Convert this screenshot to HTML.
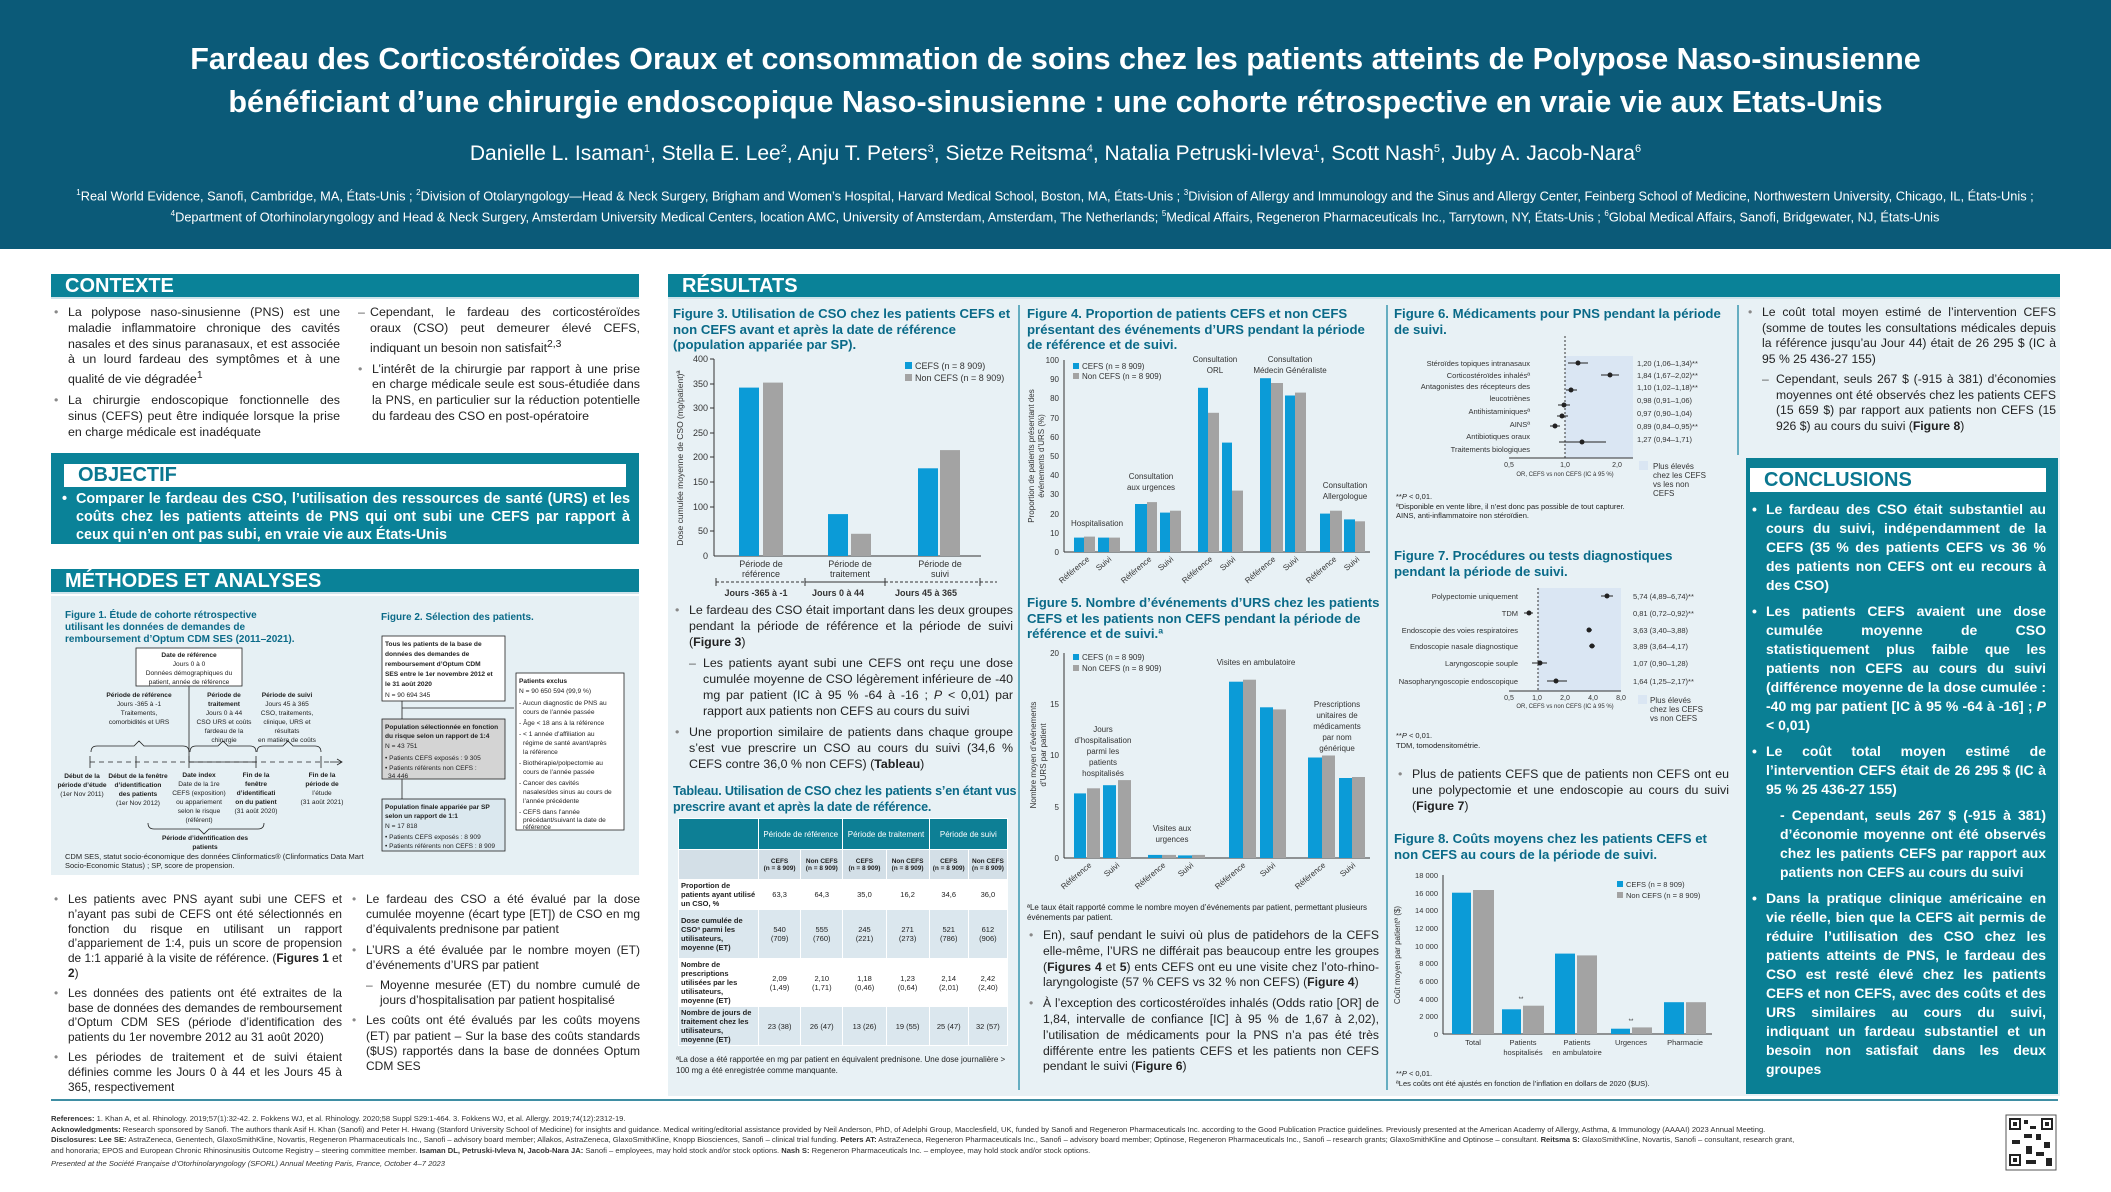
<!DOCTYPE html>
<html><head><meta charset="utf-8">
<style>
*{margin:0;padding:0;box-sizing:border-box}
body{width:2111px;height:1192px;position:relative;background:#fff;font-family:"Liberation Sans",Arial,sans-serif;color:#222;overflow:hidden}
.a{position:absolute}
.hdr{left:0;top:0;width:2111px;height:249px;background:#0b5a78;color:#fff;text-align:center}
.bar{background:#0a8298;color:#fff;font-weight:bold;font-size:20px;line-height:24px;padding-left:14px;border-bottom:2px solid #cfe3ea}
.t{font-size:12.4px;line-height:15.8px;text-align:justify}
.t p{position:relative;padding-left:16px;margin-bottom:5px}
.t p:before{content:"•";position:absolute;left:2px;color:#888}
.t p.d{padding-left:30px}
.t p.d:before{content:"–";left:16px;color:#555}
.ft{color:#0a6a88;font-weight:bold;font-size:13.2px;line-height:15.5px}
.sm{font-size:8.5px;line-height:10.5px}
table{border-collapse:collapse;font-size:7.5px;text-align:center}
td{border:1px solid #fff;padding:1px 2px}
.c p{position:relative;padding-left:16px;margin-bottom:7px}
.c p:before{content:"•";position:absolute;left:2px}
.c p.x:before{content:""}
</style></head><body>
<div class="a hdr">
<div class="a" style="left:0;width:2111px;top:38px;font-size:30.5px;font-weight:bold;line-height:43px">Fardeau des Corticostéroïdes Oraux et consommation de soins chez les patients atteints de Polypose Naso-sinusienne<br>bénéficiant d’une chirurgie endoscopique Naso-sinusienne : une cohorte rétrospective en vraie vie aux Etats-Unis</div>
<div class="a" style="left:0;width:2111px;top:142px;font-size:21px">Danielle L. Isaman<sup style="font-size:11px">1</sup>, Stella E. Lee<sup style="font-size:11px">2</sup>, Anju T. Peters<sup style="font-size:11px">3</sup>, Sietze Reitsma<sup style="font-size:11px">4</sup>, Natalia Petruski-Ivleva<sup style="font-size:11px">1</sup>, Scott Nash<sup style="font-size:11px">5</sup>, Juby A. Jacob-Nara<sup style="font-size:11px">6</sup></div>
<div class="a" style="left:70px;width:1970px;top:184px;font-size:12.8px;line-height:18px"><sup style="font-size:8px">1</sup>Real World Evidence, Sanofi, Cambridge, MA, États-Unis ; <sup style="font-size:8px">2</sup>Division of Otolaryngology—Head &amp; Neck Surgery, Brigham and Women’s Hospital, Harvard Medical School, Boston, MA, États-Unis ; <sup style="font-size:8px">3</sup>Division of Allergy and Immunology and the Sinus and Allergy Center, Feinberg School of Medicine, Northwestern University, Chicago, IL, États-Unis ; <sup style="font-size:8px">4</sup>Department of Otorhinolaryngology and Head &amp; Neck Surgery, Amsterdam University Medical Centers, location AMC, University of Amsterdam, Amsterdam, The Netherlands; <sup style="font-size:8px">5</sup>Medical Affairs, Regeneron Pharmaceuticals Inc., Tarrytown, NY, États-Unis ; <sup style="font-size:8px">6</sup>Global Medical Affairs, Sanofi, Bridgewater, NJ, États-Unis</div>
</div>

<!-- LEFT COLUMN -->
<div class="a bar" style="left:51px;top:274px;width:588px;height:25px">CONTEXTE</div>
<div class="a t" style="left:52px;top:305px;width:288px">
<p>La polypose naso-sinusienne (PNS) est une maladie inflammatoire chronique des cavités nasales et des sinus paranasaux, et est associée à un lourd fardeau des symptômes et à une qualité de vie dégradée<sup>1</sup></p>
<p>La chirurgie endoscopique fonctionnelle des sinus (CEFS) peut être indiquée lorsque la prise en charge médicale est inadéquate</p></div>
<div class="a t" style="left:356px;top:305px;width:284px">
<p class="d" style="padding-left:14px">Cependant, le fardeau des corticostéroïdes oraux (CSO) peut demeurer élevé CEFS, indiquant un besoin non satisfait<sup>2,3</sup></p>
<style>.t p.d[style]:before{left:2px}</style>
<p>L’intérêt de la chirurgie par rapport à une prise en charge médicale seule est sous-étudiée dans la PNS, en particulier sur la réduction potentielle du fardeau des CSO en post-opératoire</p></div>

<div class="a" style="left:51px;top:453px;width:588px;height:91px;background:#0a8298"></div>
<div class="a" style="left:64px;top:464px;width:562px;height:23px;background:#fff;color:#0a7790;font-weight:bold;font-size:20px;line-height:23px;padding-left:14px">OBJECTIF</div>
<div class="a c" style="left:60px;top:490px;width:570px;color:#fff;font-weight:bold;font-size:14.4px;line-height:18px;text-align:justify"><p>Comparer le fardeau des CSO, l’utilisation des ressources de santé (URS) et les coûts chez les patients atteints de PNS qui ont subi une CEFS par rapport à ceux qui n’en ont pas subi, en vraie vie aux États-Unis</p></div>

<div class="a bar" style="left:51px;top:569px;width:588px;height:25px">MÉTHODES ET ANALYSES</div>
<div class="a" style="left:51px;top:596px;width:588px;height:279px;background:#e6f0f4"></div>
<div class="a ft" style="left:65px;top:610px;width:230px;font-size:10px;line-height:12px">Figure 1. Étude de cohorte rétrospective utilisant les données de demandes de remboursement d’Optum CDM SES (2011–2021).</div>
<div class="a ft" style="left:381px;top:610px;font-size:10px">Figure 2. Sélection des patients.</div>
<div class="a sm" style="left:65px;top:852px;width:300px;font-size:7.5px;line-height:9px">CDM SES, statut socio-économique des données Clinformatics® (Clinformatics Data Mart Socio-Economic Status) ; SP, score de propension.</div>

<div class="a t" style="left:52px;top:892px;width:290px;line-height:14.8px;font-size:11.8px">
<p>Les patients avec PNS ayant subi une CEFS et n’ayant pas subi de CEFS ont été sélectionnés en fonction du risque en utilisant un rapport d’appariement de 1:4, puis un score de propension de 1:1 apparié à la visite de référence. (<b>Figures 1</b> et <b>2</b>)</p>
<p>Les données des patients ont été extraites de la base de données des demandes de remboursement d’Optum CDM SES (période d’identification des patients du 1er novembre 2012 au 31 août 2020)</p>
<p>Les périodes de traitement et de suivi étaient définies comme les Jours 0 à 44 et les Jours 45 à 365, respectivement</p></div>
<div class="a t" style="left:350px;top:892px;width:290px;line-height:15.2px;font-size:12px">
<p>Le fardeau des CSO a été évalué par la dose cumulée moyenne (écart type [ET]) de CSO en mg d’équivalents prednisone par patient</p>
<p>L’URS a été évaluée par le nombre moyen (ET) d’événements d’URS par patient</p>
<p class="d">Moyenne mesurée (ET) du nombre cumulé de jours d’hospitalisation par patient hospitalisé</p>
<p>Les coûts ont été évalués par les coûts moyens (ET) par patient – Sur la base des coûts standards ($US) rapportés dans la base de données Optum CDM SES</p></div>

<!-- RESULTS -->
<div class="a bar" style="left:668px;top:274px;width:1392px;height:25px">RÉSULTATS</div>
<div class="a" style="left:668px;top:299px;width:1392px;height:797px;background:#e8f1f5"></div>
<div class="a" style="left:1746px;top:458px;width:312px;height:636px;background:#0a7f94"></div>

<div class="a ft" style="left:673px;top:306px;width:340px">Figure 3. Utilisation de CSO chez les patients CEFS et non CEFS avant et après la date de référence (population appariée par SP).</div>
<div class="a t" style="left:673px;top:602px;width:340px;line-height:16px">
<p>Le fardeau des CSO était important dans les deux groupes pendant la période de référence et la période de suivi (<b>Figure 3</b>)</p>
<p class="d">Les patients ayant subi une CEFS ont reçu une dose cumulée moyenne de CSO légèrement inférieure de -40 mg par patient (IC à 95 % -64 à -16 ; <i>P</i> &lt; 0,01) par rapport aux patients non CEFS au cours du suivi</p>
<p>Une proportion similaire de patients dans chaque groupe s’est vue prescrire un CSO au cours du suivi (34,6 % CEFS contre 36,0 % non CEFS) (<b>Tableau</b>)</p></div>
<div class="a ft" style="left:673px;top:784px;width:345px;font-size:12.6px;letter-spacing:-0.2px">Tableau. Utilisation de CSO chez les patients s’en étant vus prescrire avant et après la date de référence.</div>
<table class="a" style="left:678px;top:818px;width:330px">
<tr style="background:#0d7f95;color:#fff;height:31px;font-size:8px"><td style="width:80px"></td><td colspan="2">Période de référence</td><td colspan="2">Période de traitement</td><td colspan="2">Période de suivi</td></tr>
<tr style="background:#d3dfe7;height:30px;font-weight:bold;font-size:6.5px"><td></td><td>CEFS<br>(n = 8 909)</td><td>Non CEFS<br>(n = 8 909)</td><td>CEFS<br>(n = 8 909)</td><td>Non CEFS<br>(n = 8 909)</td><td>CEFS<br>(n = 8 909)</td><td>Non CEFS<br>(n = 8 909)</td></tr>
<tr style="background:#fff;height:30px"><td style="text-align:left;font-weight:bold">Proportion de patients ayant utilisé un CSO, %</td><td>63,3</td><td>64,3</td><td>35,0</td><td>16,2</td><td>34,6</td><td>36,0</td></tr>
<tr style="background:#dbe7ee;height:49px"><td style="text-align:left;font-weight:bold">Dose cumulée de CSOª parmi les utilisateurs, moyenne (ET)</td><td>540<br>(709)</td><td>555<br>(760)</td><td>245<br>(221)</td><td>271<br>(273)</td><td>521<br>(786)</td><td>612<br>(906)</td></tr>
<tr style="background:#fff;height:40px"><td style="text-align:left;font-weight:bold">Nombre de prescriptions utilisées par les utilisateurs, moyenne (ET)</td><td>2,09<br>(1,49)</td><td>2,10<br>(1,71)</td><td>1,18<br>(0,46)</td><td>1,23<br>(0,64)</td><td>2,14<br>(2,01)</td><td>2,42<br>(2,40)</td></tr>
<tr style="background:#dbe7ee;height:38px"><td style="text-align:left;font-weight:bold">Nombre de jours de traitement chez les utilisateurs, moyenne (ET)</td><td>23 (38)</td><td>26 (47)</td><td>13 (26)</td><td>19 (55)</td><td>25 (47)</td><td>32 (57)</td></tr>
</table>
<div class="a sm" style="left:676px;top:1055px;width:340px;font-size:8px">ªLa dose a été rapportée en mg par patient en équivalent prednisone. Une dose journalière &gt; 100 mg a été enregistrée comme manquante.</div>

<div class="a ft" style="left:1027px;top:306px;width:355px">Figure 4. Proportion de patients CEFS et non CEFS présentant des événements d’URS pendant la période de référence et de suivi.</div>
<div class="a ft" style="left:1027px;top:595px;width:355px">Figure 5. Nombre d’événements d’URS chez les patients CEFS et les patients non CEFS pendant la période de référence et de suivi.ª</div>
<div class="a sm" style="left:1027px;top:903px;width:350px;font-size:8px;line-height:9.5px">ªLe taux était rapporté comme le nombre moyen d’événements par patient, permettant plusieurs événements par patient.</div>
<div class="a t" style="left:1027px;top:928px;width:352px;line-height:15.8px;font-size:12.2px">
<p>En), sauf pendant le suivi où plus de patidehors de la CEFS elle-même, l’URS ne différait pas beaucoup entre les groupes (<b>Figures 4</b> et <b>5</b>) ents CEFS ont eu une visite chez l’oto-rhino-laryngologiste (57 % CEFS vs 32 % non CEFS) (<b>Figure 4</b>)</p>
<p>À l’exception des corticostéroïdes inhalés (Odds ratio [OR] de 1,84, intervalle de confiance [IC] à 95 % de 1,67 à 2,02), l’utilisation de médicaments pour la PNS n’a pas été très différente entre les patients CEFS et les patients non CEFS pendant le suivi (<b>Figure 6</b>)</p></div>

<div class="a ft" style="left:1394px;top:306px;width:330px">Figure 6. Médicaments pour PNS pendant la période de suivi.</div>
<div class="a sm" style="left:1396px;top:492px;width:330px;font-size:7.5px;line-height:9.5px">**<i>P</i> &lt; 0,01.<br>ªDisponible en vente libre, il n’est donc pas possible de tout capturer.<br>AINS, anti-inflammatoire non stéroïdien.</div>
<div class="a ft" style="left:1394px;top:548px;width:330px">Figure 7. Procédures ou tests diagnostiques pendant la période de suivi.</div>
<div class="a sm" style="left:1396px;top:731px;font-size:7.5px;line-height:10px">**<i>P</i> &lt; 0,01.<br>TDM, tomodensitométrie.</div>
<div class="a t" style="left:1396px;top:767px;width:333px">
<p>Plus de patients CEFS que de patients non CEFS ont eu une polypectomie et une endoscopie au cours du suivi (<b>Figure 7</b>)</p></div>
<div class="a ft" style="left:1394px;top:831px;width:333px">Figure 8. Coûts moyens chez les patients CEFS et non CEFS au cours de la période de suivi.</div>
<div class="a sm" style="left:1396px;top:1069px;font-size:7.5px;line-height:10px">**<i>P</i> &lt; 0,01.<br>ªLes coûts ont été ajustés en fonction de l’inflation en dollars de 2020 ($US).</div>

<div class="a t" style="left:1746px;top:305px;width:310px;font-size:12.2px;line-height:15.5px">
<p>Le coût total moyen estimé de l’intervention CEFS (somme de toutes les consultations médicales depuis la référence jusqu’au Jour 44) était de 26 295 $ (IC à 95 % 25 436-27 155)</p>
<p class="d">Cependant, seuls 267 $ (-915 à 381) d’économies moyennes ont été observés chez les patients CEFS (15 659 $) par rapport aux patients non CEFS (15 926 $) au cours du suivi (<b>Figure 8</b>)</p></div>
<div class="a" style="left:1750px;top:468px;width:296px;height:24px;background:#fff;color:#0a7790;font-weight:bold;font-size:20px;line-height:24px;padding-left:14px">CONCLUSIONS</div>
<div class="a c" style="left:1750px;top:500px;width:296px;color:#fff;font-weight:bold;font-size:14px;line-height:19px;text-align:justify">
<p>Le fardeau des CSO était substantiel au cours du suivi, indépendamment de la CEFS (35 % des patients CEFS vs 36 % des patients non CEFS ont eu recours à des CSO)</p>
<p>Les patients CEFS avaient une dose cumulée moyenne de CSO statistiquement plus faible que les patients non CEFS au cours du suivi (différence moyenne de la dose cumulée : -40 mg par patient [IC à 95 % -64 à -16] ; <i>P</i> &lt; 0,01)</p>
<p>Le coût total moyen estimé de l’intervention CEFS était de 26 295 $ (IC à 95 % 25 436-27 155)</p>
<p style="padding-left:30px" class="x">- Cependant, seuls 267 $ (-915 à 381) d’économie moyenne ont été observés chez les patients CEFS par rapport aux patients non CEFS au cours du suivi</p>
<p>Dans la pratique clinique américaine en vie réelle, bien que la CEFS ait permis de réduire l’utilisation des CSO chez les patients atteints de PNS, le fardeau des CSO est resté élevé chez les patients CEFS et non CEFS, avec des coûts et des URS similaires au cours du suivi, indiquant un fardeau substantiel et un besoin non satisfait dans les deux groupes</p></div>

<!-- FOOTER -->
<div class="a" style="left:51px;top:1099px;width:2007px;height:2px;background:#3f8ea3"></div>
<div class="a" style="left:51px;top:1114px;width:1940px;font-size:7.6px;line-height:10.6px;color:#333">
<b>References:</b> 1. Khan A, et al. Rhinology. 2019;57(1):32-42. 2. Fokkens WJ, et al. Rhinology. 2020;58 Suppl S29:1-464. 3. Fokkens WJ, et al. Allergy. 2019;74(12):2312-19.<br>
<b>Acknowledgments:</b> Research sponsored by Sanofi. The authors thank Asif H. Khan (Sanofi) and Peter H. Hwang (Stanford University School of Medicine) for insights and guidance. Medical writing/editorial assistance provided by Neil Anderson, PhD, of Adelphi Group, Macclesfield, UK, funded by Sanofi and Regeneron Pharmaceuticals Inc. according to the Good Publication Practice guidelines. Previously presented at the American Academy of Allergy, Asthma, &amp; Immunology (AAAAI) 2023 Annual Meeting.<br>
<b>Disclosures: Lee SE:</b> AstraZeneca, Genentech, GlaxoSmithKline, Novartis, Regeneron Pharmaceuticals Inc., Sanofi – advisory board member; Allakos, AstraZeneca, GlaxoSmithKline, Knopp Biosciences, Sanofi – clinical trial funding. <b>Peters AT:</b> AstraZeneca, Regeneron Pharmaceuticals Inc., Sanofi – advisory board member; Optinose, Regeneron Pharmaceuticals Inc., Sanofi – research grants; GlaxoSmithKline and Optinose – consultant. <b>Reitsma S:</b> GlaxoSmithKline, Novartis, Sanofi – consultant, research grant,<br>and honoraria; EPOS and European Chronic Rhinosinusitis Outcome Registry – steering committee member. <b>Isaman DL, Petruski-Ivleva N, Jacob-Nara JA:</b> Sanofi – employees, may hold stock and/or stock options. <b>Nash S:</b> Regeneron Pharmaceuticals Inc. – employee, may hold stock and/or stock options.<br>
<i style="line-height:16px">Presented at the Société Française d’Otorhinolaryngology (SFORL) Annual Meeting Paris, France, October 4–7 2023</i></div>

<svg class="a" style="left:0;top:0" width="2111" height="1192" font-family="Liberation Sans, Arial, sans-serif">
<g stroke="#3b97b0" stroke-width="1.5"><line x1="1019" y1="305" x2="1019" y2="1090"/><line x1="1387" y1="305" x2="1387" y2="1090"/><line x1="1738" y1="305" x2="1738" y2="455"/></g>

<!-- FIG 1 -->
<g font-size="6.6" fill="#222" text-anchor="middle" stroke-width="0.8">
<rect x="136" y="648" width="106" height="38" fill="#fff" stroke="#222"/>
<text x="189" y="657" font-weight="bold">Date de référence</text><text x="189" y="666">Jours 0 à 0</text><text x="189" y="675">Données démographiques du</text><text x="189" y="684">patient, année de référence</text>
<line x1="189" y1="686" x2="189" y2="762" stroke="#222"/>
<text x="139" y="697" font-weight="bold">Période de référence</text><text x="139" y="706">Jours -365 à -1</text><text x="139" y="715">Traitements,</text><text x="139" y="724">comorbidités et URS</text>
<text x="224" y="697" font-weight="bold">Période de</text><text x="224" y="706" font-weight="bold">traitement</text><text x="224" y="715">Jours 0 à 44</text><text x="224" y="724">CSO URS et coûts</text><text x="224" y="733">fardeau de la</text><text x="224" y="742">chirurgie</text>
<text x="287" y="697" font-weight="bold">Période de suivi</text><text x="287" y="706">Jours 45 à 365</text><text x="287" y="715">CSO, traitements,</text><text x="287" y="724">clinique, URS et</text><text x="287" y="733">résultats</text><text x="287" y="742">en matière de coûts</text>
<path d="M91 752 Q91 746 97 746 L134 746 L139 741 L144 746 L183 746 Q189 746 189 752 M190 752 Q190 746 196 746 L218 746 L223 741 L228 746 L250 746 Q256 746 256 752 M257 752 Q257 746 263 746 L283 746 L288 741 L293 746 L315 746 Q321 746 321 752" fill="none" stroke="#222"/>
<line x1="90" y1="762" x2="330" y2="762" stroke="#222" stroke-dasharray="5,4"/><line x1="189" y1="762" x2="256" y2="762" stroke="#222"/>
<path d="M330 762 L342 762 M337 759 L342 762 L337 765" stroke="#222" fill="none"/>
<g stroke="#222"><line x1="90" y1="756" x2="90" y2="768"/><line x1="136" y1="756" x2="136" y2="768"/><line x1="189" y1="756" x2="189" y2="768"/><line x1="256" y1="756" x2="256" y2="768"/><line x1="321" y1="756" x2="321" y2="768"/></g>
<text x="82" y="778" font-weight="bold">Début de la</text><text x="82" y="787" font-weight="bold">période d’étude</text><text x="82" y="796">(1er Nov 2011)</text>
<text x="138" y="778" font-weight="bold">Début de la fenêtre</text><text x="138" y="787" font-weight="bold">d’identification</text><text x="138" y="796" font-weight="bold">des patients</text><text x="138" y="805">(1er Nov 2012)</text>
<text x="199" y="777" font-weight="bold">Date index</text><text x="199" y="786">Date de la 1re</text><text x="199" y="795">CEFS (exposition)</text><text x="199" y="804">ou appariement</text><text x="199" y="813">selon le risque</text><text x="199" y="822">(référent)</text>
<text x="256" y="777" font-weight="bold">Fin de la</text><text x="256" y="786" font-weight="bold">fenêtre</text><text x="256" y="795" font-weight="bold">d’identificati</text><text x="256" y="804" font-weight="bold">on du patient</text><text x="256" y="813">(31 août 2020)</text>
<text x="322" y="777" font-weight="bold">Fin de la</text><text x="322" y="786" font-weight="bold">période de</text><text x="322" y="795">l’étude</text><text x="322" y="804">(31 août 2021)</text>
<path d="M148 823 Q148 829 154 829 L199 829 L204 834 L209 829 L258 829 Q264 829 264 823" fill="none" stroke="#222"/>
<text x="205" y="840" font-weight="bold">Période d’identification des</text><text x="205" y="849" font-weight="bold">patients</text>
</g>
<!-- FIG 2 -->
<g font-size="6.6" fill="#222" stroke-width="0.8">
<rect x="382" y="636" width="123" height="65" fill="#fff" stroke="#222"/>
<text x="385" y="646" font-weight="bold">Tous les patients de la base de</text><text x="385" y="656" font-weight="bold">données des demandes de</text><text x="385" y="666" font-weight="bold">remboursement d’Optum CDM</text><text x="385" y="676" font-weight="bold">SES entre le 1er novembre 2012 et</text><text x="385" y="686" font-weight="bold">le 31 août 2020</text><text x="385" y="697">N = 90 694 345</text>
<line x1="402" y1="701" x2="402" y2="719" stroke="#222"/><line x1="402" y1="708" x2="514" y2="708" stroke="#222"/>
<rect x="382" y="719" width="123" height="60" fill="#d4d4d4" stroke="#222"/>
<text x="385" y="729" font-weight="bold">Population sélectionnée en fonction</text><text x="385" y="738" font-weight="bold">du risque selon un rapport de 1:4</text><text x="385" y="748">N = 43 751</text><text x="385" y="760">• Patients CEFS exposés : 9 305</text><text x="385" y="770">• Patients référents non CEFS :</text><text x="388" y="778">34 446</text>
<line x1="402" y1="779" x2="402" y2="799" stroke="#222"/>
<rect x="382" y="799" width="123" height="52" fill="#dbe8ef" stroke="#222"/>
<text x="385" y="809" font-weight="bold">Population finale appariée par SP</text><text x="385" y="818" font-weight="bold">selon un rapport de 1:1</text><text x="385" y="828">N = 17 818</text><text x="385" y="839">• Patients CEFS exposés : 8 909</text><text x="385" y="848">• Patients référents non CEFS : 8 909</text>
<rect x="516" y="673" width="108" height="157" fill="#fff" stroke="#222"/>
<text x="519" y="683" font-weight="bold">Patients exclus</text><text x="519" y="693">N = 90 650 594 (99,9 %)</text>
<text x="519" y="705">- Aucun diagnostic de PNS au</text><text x="523" y="714">cours de l’année passée</text><text x="519" y="725">- Âge &lt; 18 ans à la référence</text><text x="519" y="736">- &lt; 1 année d’affiliation au</text><text x="523" y="745">régime de santé avant/après</text><text x="523" y="754">la référence</text><text x="519" y="765">- Biothérapie/polpectomie au</text><text x="523" y="774">cours de l’année passée</text><text x="519" y="785">- Cancer des cavités</text><text x="523" y="794">nasales/des sinus au cours de</text><text x="523" y="803">l’année précédente</text><text x="519" y="814">- CEFS dans l’année</text><text x="523" y="822">précédant/suivant la date de</text><text x="523" y="829">référence</text>
</g>

<!-- FIG 3 -->
<g font-size="9" fill="#333">
<line x1="714" y1="359" x2="714" y2="556" stroke="#333"/><line x1="714" y1="556" x2="981" y2="556" stroke="#333"/>
<g text-anchor="end"><text x="708" y="362">400</text><text x="708" y="387">350</text><text x="708" y="411">300</text><text x="708" y="436">250</text><text x="708" y="460">200</text><text x="708" y="485">150</text><text x="708" y="510">100</text><text x="708" y="534">50</text><text x="708" y="559">0</text></g>
<g stroke="#333"><line x1="710" y1="359" x2="714" y2="359"/><line x1="710" y1="384" x2="714" y2="384"/><line x1="710" y1="408" x2="714" y2="408"/><line x1="710" y1="433" x2="714" y2="433"/><line x1="710" y1="457" x2="714" y2="457"/><line x1="710" y1="482" x2="714" y2="482"/><line x1="710" y1="507" x2="714" y2="507"/><line x1="710" y1="531" x2="714" y2="531"/></g>
<text transform="translate(683,458) rotate(-90)" text-anchor="middle" font-size="8.5">Dose cumulée moyenne de CSO (mg/patient)ª</text>
<g fill="#0b9bd7"><rect x="739" y="387.6" width="20" height="168.4"/><rect x="828" y="514.1" width="20" height="41.9"/><rect x="918" y="468.3" width="20" height="87.7"/></g>
<g fill="#a3a3a3"><rect x="763" y="382.6" width="20" height="173.4"/><rect x="851" y="533.8" width="20" height="22.2"/><rect x="940" y="450.1" width="20" height="105.9"/></g>
<rect x="905" y="362" width="7" height="7" fill="#0b9bd7"/><text x="915" y="369">CEFS (n = 8 909)</text>
<rect x="905" y="374" width="7" height="7" fill="#a3a3a3"/><text x="915" y="381">Non CEFS (n = 8 909)</text>
<g text-anchor="middle"><text x="761" y="567">Période de</text><text x="761" y="577">référence</text><text x="850" y="567">Période de</text><text x="850" y="577">traitement</text><text x="940" y="567">Période de</text><text x="940" y="577">suivi</text>
<text x="756" y="596" font-weight="bold">Jours -365 à -1</text><text x="838" y="596" font-weight="bold">Jours 0 à 44</text><text x="926" y="596" font-weight="bold">Jours 45 à 365</text></g>
<g stroke="#333"><line x1="716" y1="582" x2="805" y2="582" stroke-dasharray="3,2"/><line x1="805" y1="582" x2="885" y2="582"/><line x1="885" y1="582" x2="997" y2="582" stroke-dasharray="3,2"/><line x1="716" y1="578" x2="716" y2="586"/><line x1="805" y1="578" x2="805" y2="586"/><line x1="885" y1="578" x2="885" y2="586"/><line x1="980" y1="578" x2="980" y2="586"/></g>
</g>

<!-- FIG 4 -->
<g font-size="8" fill="#333">
<line x1="1064" y1="360" x2="1064" y2="552" stroke="#333"/><line x1="1064" y1="552" x2="1370" y2="552" stroke="#333"/>
<g text-anchor="end"><text x="1059" y="363">100</text><text x="1059" y="382">90</text><text x="1059" y="401">80</text><text x="1059" y="421">70</text><text x="1059" y="440">60</text><text x="1059" y="459">50</text><text x="1059" y="478">40</text><text x="1059" y="497">30</text><text x="1059" y="517">20</text><text x="1059" y="536">10</text><text x="1059" y="555">0</text></g>
<text transform="translate(1034,456) rotate(-90)" text-anchor="middle" font-size="8">Proportion de patients présentant des</text>
<text transform="translate(1044,456) rotate(-90)" text-anchor="middle" font-size="8">événements d’URS (%)</text>
<g fill="#0b9bd7"><rect x="1074" y="537.6" width="10" height="14.4"/><rect x="1098" y="537.6" width="11" height="14.4"/><rect x="1135" y="504" width="12" height="48"/><rect x="1160" y="512.6" width="10" height="39.4"/><rect x="1198" y="387.8" width="10" height="164.2"/><rect x="1222" y="442.6" width="10" height="109.4"/><rect x="1260" y="378.2" width="11" height="173.8"/><rect x="1285" y="395.5" width="10" height="156.5"/><rect x="1320" y="513.6" width="10" height="38.4"/><rect x="1344" y="519.4" width="11" height="32.6"/></g>
<g fill="#a3a3a3"><rect x="1084" y="536.6" width="11" height="15.4"/><rect x="1109" y="537.6" width="11" height="14.4"/><rect x="1147" y="502.1" width="10" height="49.9"/><rect x="1170" y="510.7" width="11" height="41.3"/><rect x="1208" y="412.8" width="11" height="139.2"/><rect x="1232" y="490.6" width="11" height="61.4"/><rect x="1271" y="383" width="12" height="169"/><rect x="1295" y="392.6" width="11" height="159.4"/><rect x="1330" y="510.7" width="12" height="41.3"/><rect x="1355" y="521.3" width="10" height="30.7"/></g>
<rect x="1073" y="363" width="6" height="6" fill="#0b9bd7"/><text x="1082" y="369">CEFS (n = 8 909)</text>
<rect x="1073" y="373" width="6" height="6" fill="#a3a3a3"/><text x="1082" y="379">Non CEFS (n = 8 909)</text>
<g text-anchor="middle"><text x="1097" y="526">Hospitalisation</text><text x="1151" y="479">Consultation</text><text x="1151" y="490">aux urgences</text><text x="1215" y="362">Consultation</text><text x="1215" y="373">ORL</text><text x="1290" y="362">Consultation</text><text x="1290" y="373">Médecin Généraliste</text><text x="1345" y="488">Consultation</text><text x="1345" y="499">Allergologue</text></g>
<g text-anchor="end">
<text transform="translate(1090,560) rotate(-40)">Référence</text><text transform="translate(1112,560) rotate(-40)">Suivi</text>
<text transform="translate(1152,560) rotate(-40)">Référence</text><text transform="translate(1174,560) rotate(-40)">Suivi</text>
<text transform="translate(1213,560) rotate(-40)">Référence</text><text transform="translate(1236,560) rotate(-40)">Suivi</text>
<text transform="translate(1276,560) rotate(-40)">Référence</text><text transform="translate(1299,560) rotate(-40)">Suivi</text>
<text transform="translate(1337,560) rotate(-40)">Référence</text><text transform="translate(1360,560) rotate(-40)">Suivi</text></g>
</g>

<!-- FIG 5 -->
<g font-size="8" fill="#333">
<line x1="1064" y1="653" x2="1064" y2="858" stroke="#333"/><line x1="1064" y1="858" x2="1370" y2="858" stroke="#333"/>
<g text-anchor="end"><text x="1059" y="656">20</text><text x="1059" y="707">15</text><text x="1059" y="758">10</text><text x="1059" y="810">5</text><text x="1059" y="861">0</text></g>
<text transform="translate(1036,755) rotate(-90)" text-anchor="middle">Nombre moyen d’événements</text>
<text transform="translate(1046,755) rotate(-90)" text-anchor="middle">d’URS par patient</text>
<g fill="#0b9bd7"><rect x="1074" y="793.4" width="12" height="64.6"/><rect x="1103" y="785.2" width="13" height="72.8"/><rect x="1148" y="854.9" width="14" height="3.1"/><rect x="1178" y="855.4" width="14" height="2.6"/><rect x="1229" y="681.7" width="14" height="176.3"/><rect x="1260" y="707.3" width="13" height="150.7"/><rect x="1308" y="757.5" width="14" height="100.5"/><rect x="1339" y="778" width="13" height="80"/></g>
<g fill="#a3a3a3"><rect x="1087" y="788.3" width="13" height="69.7"/><rect x="1118" y="780.1" width="13" height="77.9"/><rect x="1162" y="854.9" width="14" height="3.1"/><rect x="1192" y="854.9" width="13" height="3.1"/><rect x="1243" y="679.7" width="13" height="178.3"/><rect x="1273" y="709.4" width="13" height="148.6"/><rect x="1322" y="755.5" width="13" height="102.5"/><rect x="1352" y="777" width="13" height="81"/></g>
<rect x="1073" y="654" width="6" height="6" fill="#0b9bd7"/><text x="1082" y="660">CEFS (n = 8 909)</text>
<rect x="1073" y="665" width="6" height="6" fill="#a3a3a3"/><text x="1082" y="671">Non CEFS (n = 8 909)</text>
<g text-anchor="middle"><text x="1103" y="732">Jours</text><text x="1103" y="743">d’hospitalisation</text><text x="1103" y="754">parmi les</text><text x="1103" y="765">patients</text><text x="1103" y="776">hospitalisés</text><text x="1172" y="831">Visites aux</text><text x="1172" y="842">urgences</text><text x="1256" y="665">Visites en ambulatoire</text><text x="1337" y="707">Prescriptions</text><text x="1337" y="718">unitaires de</text><text x="1337" y="729">médicaments</text><text x="1337" y="740">par nom</text><text x="1337" y="751">générique</text></g>
<g text-anchor="end">
<text transform="translate(1092,866) rotate(-40)">Référence</text><text transform="translate(1120,866) rotate(-40)">Suivi</text>
<text transform="translate(1166,866) rotate(-40)">Référence</text><text transform="translate(1194,866) rotate(-40)">Suivi</text>
<text transform="translate(1246,866) rotate(-40)">Référence</text><text transform="translate(1276,866) rotate(-40)">Suivi</text>
<text transform="translate(1326,866) rotate(-40)">Référence</text><text transform="translate(1356,866) rotate(-40)">Suivi</text></g>
</g>

<!-- FIG 6 -->
<g font-size="7.5" fill="#333">
<rect x="1565" y="356" width="68" height="102" fill="#dae6f3"/>
<line x1="1565" y1="336" x2="1565" y2="458" stroke="#333" stroke-dasharray="2,2"/>
<line x1="1509" y1="458" x2="1633" y2="458" stroke="#333"/>
<g text-anchor="end"><text x="1530" y="366">Stéroïdes topiques intranasaux</text><text x="1530" y="378">Corticostéroïdes inhalésª</text><text x="1530" y="389">Antagonistes des récepteurs des</text><text x="1530" y="401">leucotriènes</text><text x="1530" y="414">Antihistaminiquesª</text><text x="1530" y="427">AINSª</text><text x="1530" y="439">Antibiotiques oraux</text><text x="1530" y="452">Traitements biologiques</text></g>
<g stroke="#222"><line x1="1568" y1="363" x2="1588" y2="363"/><line x1="1601" y1="375" x2="1619" y2="375"/><line x1="1566" y1="390" x2="1577" y2="390"/><line x1="1558" y1="405" x2="1570" y2="405"/><line x1="1557" y1="416" x2="1568" y2="416"/><line x1="1550" y1="426" x2="1560" y2="426"/><line x1="1559" y1="442" x2="1606" y2="442"/></g>
<g fill="#222"><circle cx="1578" cy="363" r="2.5"/><circle cx="1610" cy="375" r="2.5"/><circle cx="1571" cy="390" r="2.5"/><circle cx="1564" cy="405" r="2.5"/><circle cx="1562" cy="416" r="2.5"/><circle cx="1555" cy="426" r="2.5"/><circle cx="1582" cy="442" r="2.5"/></g>
<g text-anchor="middle" font-size="7"><text x="1509" y="467">0,5</text><text x="1565" y="467">1,0</text><text x="1617" y="467">2,0</text><text x="1565" y="476" font-size="6">OR, CEFS vs non CEFS (IC à 95 %)</text></g>
<g font-size="7.5"><text x="1637" y="366">1,20 (1,06–1,34)**</text><text x="1637" y="378">1,84 (1,67–2,02)**</text><text x="1637" y="390">1,10 (1,02–1,18)**</text><text x="1637" y="403">0,98 (0,91–1,06)</text><text x="1637" y="416">0,97 (0,90–1,04)</text><text x="1637" y="429">0,89 (0,84–0,95)**</text><text x="1637" y="442">1,27 (0,94–1,71)</text></g>
<rect x="1639" y="461" width="9" height="9" fill="#dae6f3"/>
<g font-size="8"><text x="1653" y="469">Plus élevés</text><text x="1653" y="478">chez les CEFS</text><text x="1653" y="487">vs les non</text><text x="1653" y="496">CEFS</text></g>
</g>

<!-- FIG 7 -->
<g font-size="7.5" fill="#333">
<rect x="1538" y="588" width="83" height="103" fill="#dae6f3"/>
<line x1="1538" y1="588" x2="1538" y2="691" stroke="#333" stroke-dasharray="2,2"/>
<line x1="1509" y1="691" x2="1621" y2="691" stroke="#333"/>
<g text-anchor="end"><text x="1518" y="599">Polypectomie uniquement</text><text x="1518" y="616">TDM</text><text x="1518" y="633">Endoscopie des voies respiratoires</text><text x="1518" y="649">Endoscopie nasale diagnostique</text><text x="1518" y="666">Laryngoscopie souple</text><text x="1518" y="684">Nasopharyngoscopie endoscopique</text></g>
<g stroke="#222"><line x1="1601" y1="596" x2="1613" y2="596"/><line x1="1524" y1="613" x2="1533" y2="613"/><line x1="1587" y1="630" x2="1592" y2="630"/><line x1="1589" y1="646" x2="1595" y2="646"/><line x1="1532" y1="663" x2="1547" y2="663"/><line x1="1547" y1="681" x2="1567" y2="681"/></g>
<g fill="#222"><circle cx="1607" cy="596" r="2.5"/><circle cx="1529" cy="613" r="2.5"/><circle cx="1589" cy="630" r="2.5"/><circle cx="1592" cy="646" r="2.5"/><circle cx="1540" cy="663" r="2.5"/><circle cx="1556" cy="681" r="2.5"/></g>
<g text-anchor="middle" font-size="7"><text x="1509" y="700">0,5</text><text x="1537" y="700">1,0</text><text x="1565" y="700">2,0</text><text x="1593" y="700">4,0</text><text x="1621" y="700">8,0</text><text x="1565" y="708" font-size="6">OR, CEFS vs non CEFS (IC à 95 %)</text></g>
<g><text x="1633" y="599">5,74 (4,89–6,74)**</text><text x="1633" y="616">0,81 (0,72–0,92)**</text><text x="1633" y="633">3,63 (3,40–3,88)</text><text x="1633" y="649">3,89 (3,64–4,17)</text><text x="1633" y="666">1,07 (0,90–1,28)</text><text x="1633" y="684">1,64 (1,25–2,17)**</text></g>
<rect x="1638" y="695" width="9" height="9" fill="#dae6f3"/>
<g font-size="8"><text x="1650" y="703">Plus élevés</text><text x="1650" y="712">chez les CEFS</text><text x="1650" y="721">vs non CEFS</text></g>
</g>

<!-- FIG 8 -->
<g font-size="7.5" fill="#333">
<line x1="1443" y1="875" x2="1443" y2="1034" stroke="#333"/><line x1="1443" y1="1034" x2="1712" y2="1034" stroke="#333"/>
<g text-anchor="end"><text x="1438" y="878">18 000</text><text x="1438" y="896">16 000</text><text x="1438" y="913">14 000</text><text x="1438" y="931">12 000</text><text x="1438" y="949">10 000</text><text x="1438" y="966">8 000</text><text x="1438" y="984">6 000</text><text x="1438" y="1002">4 000</text><text x="1438" y="1019">2 000</text><text x="1438" y="1037">0</text></g>
<text transform="translate(1400,955) rotate(-90)" text-anchor="middle" font-size="8">Coût moyen par patientª ($)</text>
<g fill="#0b9bd7"><rect x="1452" y="892.7" width="19" height="141.3"/><rect x="1502" y="1009.3" width="19" height="24.7"/><rect x="1555" y="953.6" width="20" height="80.4"/><rect x="1611" y="1028.7" width="19" height="5.3"/><rect x="1664" y="1002.2" width="20" height="31.8"/></g>
<g fill="#a3a3a3"><rect x="1473" y="890" width="21" height="144"/><rect x="1523" y="1005.7" width="21" height="28.3"/><rect x="1577" y="955.4" width="20" height="78.6"/><rect x="1632" y="1027.4" width="20" height="6.6"/><rect x="1686" y="1002.2" width="20" height="31.8"/></g>
<text x="1521" y="1001" text-anchor="middle" font-size="6">**</text><text x="1631" y="1023" text-anchor="middle" font-size="6">**</text>
<rect x="1617" y="881" width="6" height="6" fill="#0b9bd7"/><text x="1626" y="887">CEFS (n = 8 909)</text>
<rect x="1617" y="892" width="6" height="6" fill="#a3a3a3"/><text x="1626" y="898">Non CEFS (n = 8 909)</text>
<g text-anchor="middle"><text x="1473" y="1045">Total</text><text x="1523" y="1045">Patients</text><text x="1523" y="1055">hospitalisés</text><text x="1577" y="1045">Patients</text><text x="1577" y="1055">en ambulatoire</text><text x="1631" y="1045">Urgences</text><text x="1685" y="1045">Pharmacie</text></g>
</g>

<!-- QR -->
<rect x="2006" y="1115" width="50" height="55" fill="#fff" stroke="#555"/>
<g fill="#222"><rect x="2009" y="1118" width="12" height="12"/><rect x="2041" y="1118" width="12" height="12"/><rect x="2009" y="1154" width="12" height="12"/>
<rect x="2024" y="1120" width="4" height="4"/><rect x="2030" y="1126" width="6" height="3"/><rect x="2024" y="1134" width="8" height="4"/><rect x="2036" y="1134" width="5" height="6"/><rect x="2012" y="1140" width="8" height="4"/><rect x="2044" y="1142" width="6" height="6"/><rect x="2026" y="1146" width="6" height="8"/><rect x="2036" y="1152" width="8" height="4"/><rect x="2026" y="1160" width="10" height="4"/><rect x="2046" y="1158" width="6" height="8"/></g>
<g fill="#fff"><rect x="2011" y="1120" width="8" height="8"/><rect x="2043" y="1120" width="8" height="8"/><rect x="2011" y="1156" width="8" height="8"/></g>
<g fill="#222"><rect x="2013" y="1122" width="4" height="4"/><rect x="2045" y="1122" width="4" height="4"/><rect x="2013" y="1158" width="4" height="4"/></g>
</svg>
</body></html>
